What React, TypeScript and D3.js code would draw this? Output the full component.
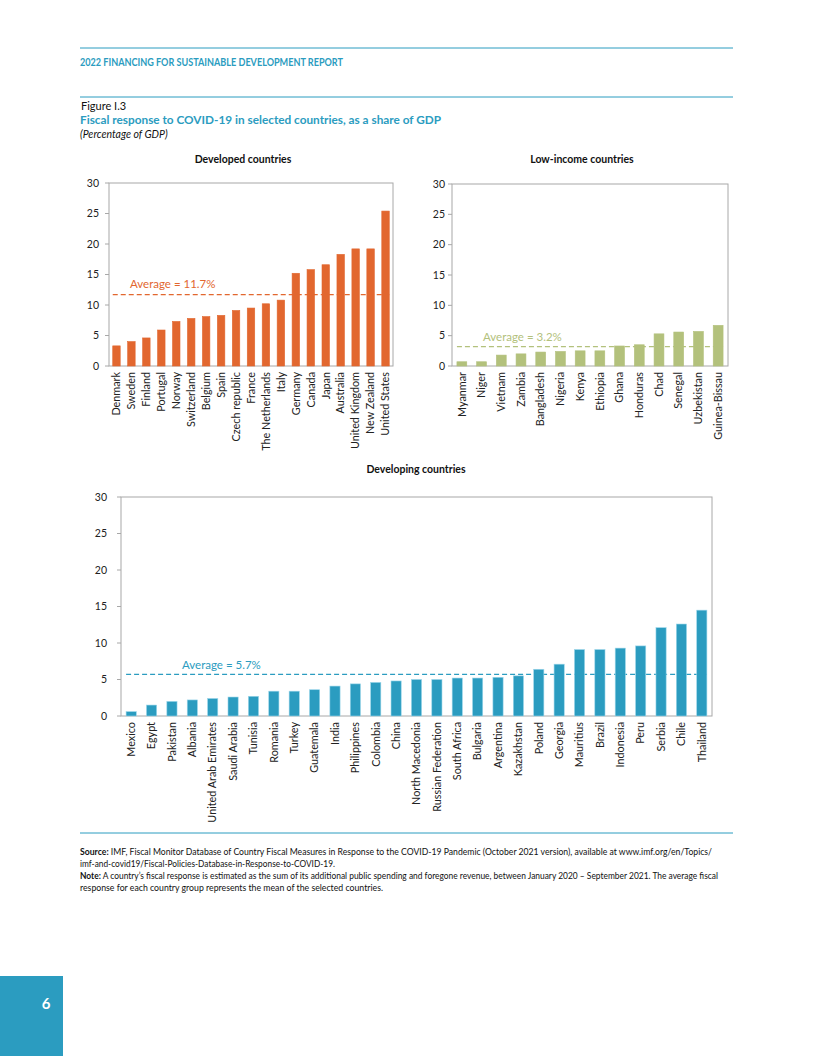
import React from "react";
import * as d3 from "d3";

const devCountries = ["Denmark","Sweden","Finland","Portugal","Norway","Switzerland","Belgium","Spain","Czech republic","France","The Netherlands","Italy","Germany","Canada","Japan","Australia","United Kingdom","New Zealand","United States"];
const devValues = [3.3,4.0,4.6,5.9,7.3,7.8,8.1,8.3,9.1,9.5,10.2,10.8,15.2,15.8,16.6,18.3,19.2,19.2,25.4];
const devAverage = 11.7;

const lowCountries = ["Myanmar","Niger","Vietnam","Zambia","Bangladesh","Nigeria","Kenya","Ethiopia","Ghana","Honduras","Chad","Senegal","Uzbekistan","Guinea-Bissau"];
const lowValues = [0.7,0.7,1.8,2.0,2.3,2.4,2.5,2.5,3.3,3.5,5.3,5.6,5.7,6.7];
const lowAverage = 3.2;

const dvgCountries = ["Mexico","Egypt","Pakistan","Albania","United Arab Emirates","Saudi Arabia","Tunisia","Romania","Turkey","Guatemala","India","Philippines","Colombia","China","North Macedonia","Russian Federation","South Africa","Bulgaria","Argentina","Kazakhstan","Poland","Georgia","Mauritius","Brazil","Indonesia","Peru","Serbia","Chile","Thailand"];
const dvgValues = [0.6,1.5,2.0,2.2,2.4,2.6,2.7,3.4,3.4,3.6,4.1,4.4,4.6,4.8,5.0,5.0,5.2,5.2,5.3,5.5,6.4,7.1,9.1,9.1,9.3,9.6,12.1,12.6,14.5];
const dvgAverage = 5.7;

const yTicks = [0,5,10,15,20,25,30];

const TEAL = "#2b9cc0";
const FONT = "Lato, 'Open Sans', sans-serif";

type PanelProps = {
  title: string; cats: string[]; vals: number[]; avg: number; color: string; barStroke: string;
  x0: number; x1: number; yTop: number; y0: number; titleX: number; titleY: number;
  labelGap: number; avgLabelX: number; avgLabelDy: number;
};

function Panel(p: PanelProps) {
  const x = d3.scaleBand<string>().domain(p.cats).range([p.x0, p.x1]).paddingInner(0.5).paddingOuter(0.25);
  const y = d3.scaleLinear().domain([0, 30]).range([p.y0, p.yTop]);
  const first = p.cats[0], last = p.cats[p.cats.length - 1];
  const avgY = y(p.avg);
  return (
    <g>
      <text x={p.titleX} y={p.titleY} textAnchor="middle" fontFamily={FONT} fontWeight="bold" fontSize={10.5} fill="#111">{p.title}</text>
      <rect x={p.x0} y={p.yTop} width={p.x1 - p.x0} height={p.y0 - p.yTop} fill="none" stroke="#a8a8a8" strokeWidth={1} />
      {yTicks.map(t => (
        <g key={t}>
          <line x1={p.x0 - 4} x2={p.x0} y1={y(t)} y2={y(t)} stroke="#a8a8a8" strokeWidth={1} />
          <text x={p.x0 - p.labelGap} y={y(t)} dy="0.35em" textAnchor="end" fontFamily={FONT} fontSize={10.5} fill="#222">{t}</text>
        </g>
      ))}
      <line x1={x(first)!} x2={x(last)! + x.bandwidth()} y1={avgY} y2={avgY} stroke={p.color} strokeWidth={1.3} strokeDasharray="5,3" />
      {p.cats.map((c, i) => (
        <rect key={c} x={x(c)!} y={y(p.vals[i])} width={x.bandwidth()} height={p.y0 - y(p.vals[i])} fill={p.color} stroke={p.barStroke} strokeWidth={0.6} />
      ))}
      <text x={p.avgLabelX} y={avgY - p.avgLabelDy} fontFamily={FONT} fontSize={11.5} fill={p.color}>{`Average = ${p.avg}%`}</text>
      {p.cats.map(c => {
        const cx = x(c)! + x.bandwidth() / 2;
        const ty = p.y0 + 6;
        return (
          <text key={c} transform={`translate(${cx},${ty}) rotate(-90)`} dy="0.35em" textAnchor="end" fontFamily={FONT} fontSize={10.8} fill="#222">{c}</text>
        );
      })}
    </g>
  );
}

export default function App() {
  return (
    <svg width={816} height={1056} style={{ position: "absolute", left: 0, top: 0 }} xmlns="http://www.w3.org/2000/svg">
      <rect x={0} y={0} width={816} height={1056} fill="#fff" />
      <line x1={80} x2={733} y1={48} y2={48} stroke={TEAL} strokeWidth={1} />
      <text x={80} y={66} fontFamily={FONT} fontWeight="bold" fontSize={11} fill={TEAL} textLength={263} lengthAdjust="spacingAndGlyphs">2022 FINANCING FOR SUSTAINABLE DEVELOPMENT REPORT</text>
      <line x1={80} x2={733} y1={97} y2={97} stroke={TEAL} strokeWidth={1} />
      <text x={81} y={110} fontFamily={FONT} fontSize={11} fill="#111">Figure I.3</text>
      <text x={80} y={124} fontFamily={FONT} fontWeight="bold" fontSize={11} fill={TEAL} textLength={361} lengthAdjust="spacingAndGlyphs">Fiscal response to COVID-19 in selected countries, as a share of GDP</text>
      <text x={80} y={138} fontFamily={FONT} fontStyle="italic" fontSize={10.5} fill="#111">(Percentage of GDP)</text>

      <Panel title="Developed countries" cats={devCountries} vals={devValues} avg={devAverage} color="#e2672f" barStroke="#e2672f"
        x0={109} x1={393} yTop={183} y0={366} titleX={243} titleY={163} labelGap={10} avgLabelX={130} avgLabelDy={7} />
      <Panel title="Low-income countries" cats={lowCountries} vals={lowValues} avg={lowAverage} color="#b3c17c" barStroke="#b3c17c"
        x0={452} x1={728} yTop={184} y0={366} titleX={582} titleY={163} labelGap={7} avgLabelX={483} avgLabelDy={6} />
      <Panel title="Developing countries" cats={dvgCountries} vals={dvgValues} avg={dvgAverage} color={TEAL} barStroke="#9bd6ea"
        x0={121} x1={712} yTop={497} y0={716} titleX={416} titleY={473} labelGap={14} avgLabelX={182} avgLabelDy={5} />

      <line x1={80} x2={733} y1={833} y2={833} stroke={TEAL} strokeWidth={1} />
      <text x={80} y={855} fontFamily={FONT} fontSize={9} fill="#111" textLength={632} lengthAdjust="spacingAndGlyphs"><tspan fontWeight="bold">Source:</tspan> IMF, Fiscal Monitor Database of Country Fiscal Measures in Response to the COVID-19 Pandemic (October 2021 version), available at www.imf.org/en/Topics/</text>
      <text x={80} y={867} fontFamily={FONT} fontSize={9} fill="#111" textLength={255} lengthAdjust="spacingAndGlyphs">imf-and-covid19/Fiscal-Policies-Database-in-Response-to-COVID-19.</text>
      <text x={80} y={879} fontFamily={FONT} fontSize={9} fill="#111" textLength={638} lengthAdjust="spacingAndGlyphs"><tspan fontWeight="bold">Note:</tspan> A country’s fiscal response is estimated as the sum of its additional public spending and foregone revenue, between January 2020 – September 2021. The average fiscal</text>
      <text x={80} y={891} fontFamily={FONT} fontSize={9} fill="#111" textLength={303} lengthAdjust="spacingAndGlyphs">response for each country group represents the mean of the selected countries.</text>

      <rect x={0} y={976} width={63} height={80} fill={TEAL} />
      <text x={46} y={1009} textAnchor="middle" fontFamily={FONT} fontWeight="bold" fontSize={15} fill="#fff">6</text>
    </svg>
  );
}
